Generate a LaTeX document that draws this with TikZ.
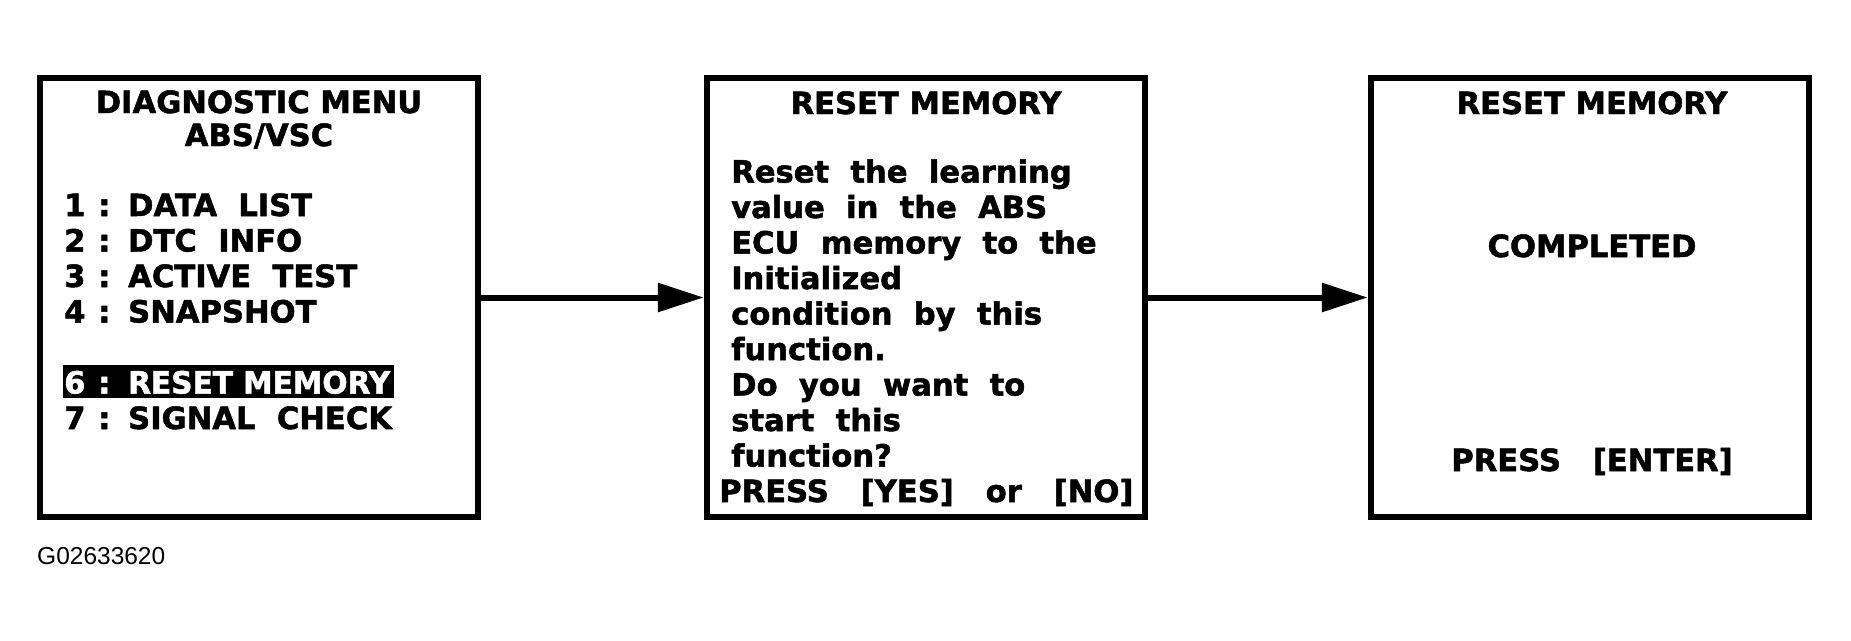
\documentclass[tikz,border=0pt]{standalone}
\usepackage{fontspec}
\newfontfamily\scrfont{DejaVu Sans}[BoldFont={DejaVu Sans Bold}, BoldFeatures={FakeBold=1.6}]
\newfontfamily\lblfont{Liberation Sans}
\usetikzlibrary{arrows.meta}
\tikzset{
  screen/.style={draw=black, line width=6.5pt, minimum width=438pt, minimum height=439pt, inner sep=0pt},
  txt/.style={inner sep=0pt, font=\scrfont\bfseries\fontsize{30.6}{36}\selectfont},
  ltxt/.style={txt, anchor=base west},
  ctxt/.style={txt, anchor=base},
  hitxt/.style={ltxt, text=white},
  hibar/.style={fill=black, inner sep=0pt, minimum width=331pt, minimum height=33pt},
  flow/.style={line width=6pt, -{Triangle[length=46pt,width=28pt]}},
  idlabel/.style={inner sep=0pt, anchor=base west, font=\lblfont\fontsize{24.5}{28}\selectfont}
}
\newcommand\mnuline[2]{\makebox[34pt][l]{#1}\makebox[30pt][l]{:}#2}
\begin{document}
\begin{tikzpicture}[x=1pt,y=-1pt]
\useasboundingbox (0,0) rectangle (1851,640);
% screens
\node[screen] (s1) at (259,297.5) {};
\node[screen] (s2) at (926,297.5) {};
\node[screen] (s3) at (1590,297.5) {};
% connectors
\draw[flow] (s1.east) -- (s2.west);
\draw[flow] (s2.east) -- (s3.west);
% screen 1
\node[ctxt] (t1a) at (259,113) {DIAGNOSTIC MENU};
\node[ctxt] (t1b) at (259,146) {ABS/VSC};
\node[ltxt] (m1) at (64,216) {\mnuline{1}{DATA~~LIST}};
\node[ltxt] (m2) at (64,251.5) {\mnuline{2}{DTC~~INFO}};
\node[ltxt] (m3) at (64,287) {\mnuline{3}{ACTIVE~~TEST}};
\node[ltxt] (m4) at (64,322.5) {\mnuline{4}{SNAPSHOT}};
\node[hibar] (hl) at (228,381.5) {};
\node[hitxt] (m6) at (64,393.5) {\mnuline{6}{\resizebox{262pt}{\height}{RESET MEMORY}}};
\node[ltxt] (m7) at (64,429) {\mnuline{7}{SIGNAL~~CHECK}};
% screen 2
\node[ctxt] (t2a) at (926,114) {RESET MEMORY};
\node[ltxt] (l1) at (731,182.5) {Reset~~the~~learning};
\node[ltxt] (l2) at (731,218) {value~~in~~the~~ABS};
\node[ltxt] (l3) at (731,253.5) {ECU~~memory~~to~~the};
\node[ltxt] (l4) at (731,289) {Initialized};
\node[ltxt] (l5) at (731,324.5) {condition~~by~~this};
\node[ltxt] (l6) at (731,360) {function.};
\node[ltxt] (l7) at (731,395.5) {Do~~you~~want~~to};
\node[ltxt] (l8) at (731,431) {start~~this};
\node[ltxt] (l9) at (731,466.5) {function?};
\node[ltxt] (l10) at (719,502) {PRESS~~~[YES]~~~or~~~[NO]};
% screen 3
\node[ctxt] (t3a) at (1592,114) {RESET MEMORY};
\node[ctxt] (t3b) at (1592,257) {COMPLETED};
\node[ctxt] (t3c) at (1592,471) {PRESS~~~[ENTER]};
% figure id
\node[idlabel] (fid) at (37,564) {G02633620};
\end{tikzpicture}
\end{document}
